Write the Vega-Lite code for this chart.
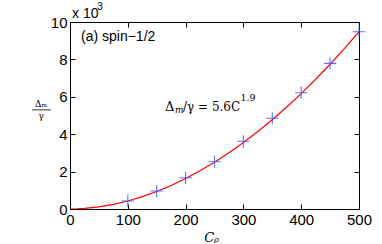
{
  "$schema": "https://vega.github.io/schema/vega-lite/v6.json",
  "width": 289,
  "height": 187,
  "autosize": "none",
  "padding": {"left": 70, "top": 22, "right": 23, "bottom": 35},
  "background": "white",
  "config": {"view": {"stroke": "black", "strokeWidth": 1}},
  "datasets": {
    "curve": [
      {"c": 0, "v": 0}, {"c": 12.5, "v": 0.008}, {"c": 25, "v": 0.03}, {"c": 50, "v": 0.113},
      {"c": 75, "v": 0.247}, {"c": 100, "v": 0.43}, {"c": 125, "v": 0.661}, {"c": 150, "v": 0.937},
      {"c": 175, "v": 1.26}, {"c": 200, "v": 1.629}, {"c": 225, "v": 2.043}, {"c": 250, "v": 2.502},
      {"c": 275, "v": 3.004}, {"c": 300, "v": 3.551}, {"c": 325, "v": 4.142}, {"c": 350, "v": 4.776},
      {"c": 375, "v": 5.454}, {"c": 400, "v": 6.173}, {"c": 425, "v": 6.937}, {"c": 450, "v": 7.742},
      {"c": 475, "v": 8.59}, {"c": 500, "v": 9.48}
    ],
    "pts": [
      {"c": 100, "v": 0.43}, {"c": 150, "v": 0.96}, {"c": 200, "v": 1.67}, {"c": 250, "v": 2.53},
      {"c": 300, "v": 3.62}, {"c": 350, "v": 4.85}, {"c": 400, "v": 6.22}, {"c": 450, "v": 7.79},
      {"c": 500, "v": 9.48}
    ]
  },
  "resolve": {"axis": {"x": "independent", "y": "independent"}},
  "layer": [
    {
      "data": {"name": "curve"},
      "mark": {"type": "line", "color": "#ff0000", "strokeWidth": 1.2, "clip": true},
      "encoding": {
        "x": {"field": "c", "type": "quantitative", "scale": {"domain": [0, 500], "nice": false},
          "axis": {"orient": "bottom", "values": [0, 100, 200, 300, 400, 500], "tickSize": -5, "tickColor": "black",
            "domainColor": "black", "grid": false, "labelFont": "Liberation Sans", "labelFontSize": 15, "labelColor": "black",
            "labelPadding": 8, "labelFlush": false,
            "title": "Cᵨ", "titleFont": "DejaVu Serif", "titleFontStyle": "italic", "titleFontWeight": "normal",
            "titleFontSize": 13, "titleColor": "black", "titlePadding": 4, "titleX": 141}},
        "y": {"field": "v", "type": "quantitative", "scale": {"domain": [0, 10], "nice": false},
          "axis": {"orient": "left", "values": [0, 2, 4, 6, 8, 10], "tickSize": -5, "tickColor": "black",
            "domainColor": "black", "grid": false, "labelFont": "Liberation Sans", "labelFontSize": 15, "labelColor": "black",
            "labelPadding": 8, "labelFlush": false, "title": null}}
      }
    },
    {
      "data": {"name": "pts"},
      "mark": {"type": "point", "shape": "M-1,0L1,0M0,-1L0,1", "filled": false, "stroke": "#3f5bff", "strokeWidth": 1.1, "opacity": 0.85, "size": 150},
      "encoding": {
        "x": {"field": "c", "type": "quantitative",
          "axis": {"orient": "top", "values": [100, 200, 300, 400], "tickSize": -5, "tickColor": "black", "domain": true, "domainColor": "black",
            "labels": false, "grid": false, "title": null}},
        "y": {"field": "v", "type": "quantitative",
          "axis": {"orient": "right", "values": [2, 4, 6, 8], "tickSize": -5, "tickColor": "black", "domain": true, "domainColor": "black",
            "labels": false, "grid": false, "title": null}}
      }
    },
    {
      "data": {"values": [{"x": 19, "y": 8.98, "t": "(a) spin\u22121/2"}]},
      "mark": {"type": "text", "align": "left", "baseline": "alphabetic", "font": "Liberation Sans", "fontSize": 14, "color": "black"},
      "encoding": {"x": {"field": "x", "type": "quantitative", "axis": null}, "y": {"field": "y", "type": "quantitative", "axis": null}, "text": {"field": "t"}}
    },
    {
      "data": {"values": [{"x": 3.5, "y": 10.21, "t": "x 10"}]},
      "mark": {"type": "text", "align": "left", "baseline": "alphabetic", "font": "Liberation Sans", "fontSize": 14, "color": "black", "clip": false},
      "encoding": {"x": {"field": "x", "type": "quantitative", "axis": null}, "y": {"field": "y", "type": "quantitative", "axis": null}, "text": {"field": "t"}}
    },
    {
      "data": {"values": [{"x": 47, "y": 10.65, "t": "3"}]},
      "mark": {"type": "text", "align": "left", "baseline": "alphabetic", "font": "Liberation Sans", "fontSize": 10, "color": "black", "clip": false},
      "encoding": {"x": {"field": "x", "type": "quantitative", "axis": null}, "y": {"field": "y", "type": "quantitative", "axis": null}, "text": {"field": "t"}}
    },
    {
      "data": {"values": [{"x": 164.4, "y": 5.24, "t": "Δ"}]},
      "mark": {"type": "text", "align": "left", "baseline": "alphabetic", "font": "DejaVu Serif", "fontSize": 13, "color": "black"},
      "encoding": {"x": {"field": "x", "type": "quantitative", "axis": null}, "y": {"field": "y", "type": "quantitative", "axis": null}, "text": {"field": "t"}}
    },
    {
      "data": {"values": [{"x": 181.5, "y": 5.13, "t": "m"}]},
      "mark": {"type": "text", "align": "left", "baseline": "alphabetic", "font": "DejaVu Serif", "fontStyle": "italic", "fontSize": 9, "color": "black"},
      "encoding": {"x": {"field": "x", "type": "quantitative", "axis": null}, "y": {"field": "y", "type": "quantitative", "axis": null}, "text": {"field": "t"}}
    },
    {
      "data": {"values": [{"x": 195.5, "y": 5.24, "t": "/γ = 5.6C"}]},
      "mark": {"type": "text", "align": "left", "baseline": "alphabetic", "font": "DejaVu Serif", "fontSize": 12, "color": "black"},
      "encoding": {"x": {"field": "x", "type": "quantitative", "axis": null}, "y": {"field": "y", "type": "quantitative", "axis": null}, "text": {"field": "t"}}
    },
    {
      "data": {"values": [{"x": 295, "y": 5.8, "t": "1.9"}]},
      "mark": {"type": "text", "align": "left", "baseline": "alphabetic", "font": "DejaVu Serif", "fontSize": 9.5, "color": "black"},
      "encoding": {"x": {"field": "x", "type": "quantitative", "axis": null}, "y": {"field": "y", "type": "quantitative", "axis": null}, "text": {"field": "t"}}
    },
    {
      "data": {"values": [{"x": -50, "y": 5.45, "t": "Δₘ"}, {"x": -50, "y": 4.8, "t": "γ"}]},
      "mark": {"type": "text", "align": "center", "baseline": "alphabetic", "font": "DejaVu Serif", "fontSize": 9, "color": "black", "clip": false},
      "encoding": {"x": {"field": "x", "type": "quantitative", "axis": null}, "y": {"field": "y", "type": "quantitative", "axis": null}, "text": {"field": "t"}}
    },
    {
      "data": {"values": [{"x": -66, "x2": -33, "y": 5.3}]},
      "mark": {"type": "rule", "color": "black", "strokeWidth": 0.8, "clip": false},
      "encoding": {"x": {"field": "x", "type": "quantitative", "axis": null}, "x2": {"field": "x2"}, "y": {"field": "y", "type": "quantitative", "axis": null}}
    }
  ]
}
